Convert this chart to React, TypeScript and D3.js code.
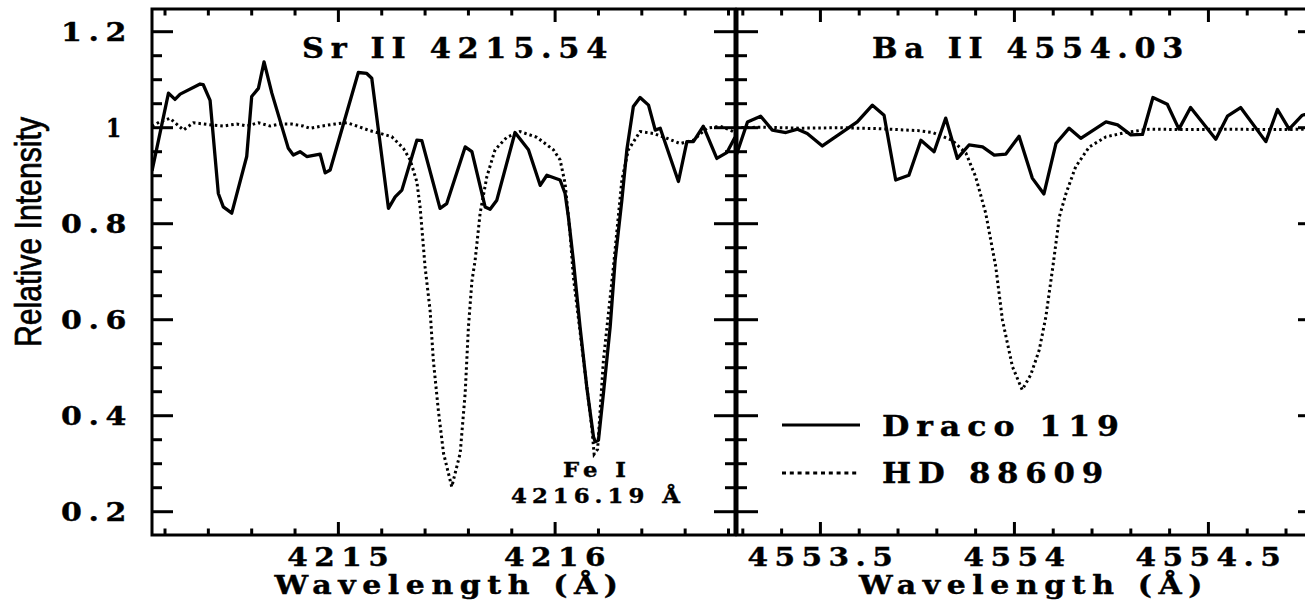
import React from 'react';
import * as d3 from 'd3';

// ---------- Data ----------
// Sr II panel, Draco 119 (solid)
const srDracoWave = [4214.14, 4214.216, 4214.246, 4214.27, 4214.362, 4214.376, 4214.408, 4214.446, 4214.469, 4214.508, 4214.577, 4214.6, 4214.631, 4214.657, 4214.693, 4214.769, 4214.792, 4214.823, 4214.854, 4214.916, 4214.939, 4214.962, 4215.092, 4215.131, 4215.154, 4215.231, 4215.262, 4215.293, 4215.362, 4215.385, 4215.469, 4215.5, 4215.585, 4215.616, 4215.677, 4215.7, 4215.731, 4215.815, 4215.877, 4215.931, 4215.962, 4216.023, 4216.046, 4216.061, 4216.084, 4216.115, 4216.146, 4216.177, 4216.185, 4216.2, 4216.223, 4216.254, 4216.277, 4216.308, 4216.331, 4216.361, 4216.392, 4216.431, 4216.462, 4216.485, 4216.569, 4216.608, 4216.638, 4216.684, 4216.746, 4216.792, 4216.83];
const srDracoFlux = [0.91, 1.072, 1.059, 1.07, 1.091, 1.09, 1.057, 0.863, 0.835, 0.822, 0.94, 1.065, 1.082, 1.137, 1.072, 0.957, 0.943, 0.95, 0.94, 0.945, 0.906, 0.912, 1.115, 1.113, 1.103, 0.832, 0.856, 0.87, 0.974, 0.973, 0.832, 0.842, 0.96, 0.95, 0.835, 0.83, 0.849, 0.99, 0.954, 0.88, 0.901, 0.891, 0.863, 0.815, 0.724, 0.585, 0.46, 0.356, 0.346, 0.349, 0.447, 0.585, 0.724, 0.849, 0.954, 1.044, 1.063, 1.047, 0.995, 0.999, 0.888, 0.971, 0.971, 1.003, 0.936, 0.948, 0.98];

// Sr II panel, HD 88609 (dotted)
const srHdWave = [4214.14, 4214.177, 4214.223, 4214.285, 4214.331, 4214.416, 4214.469, 4214.531, 4214.577, 4214.631, 4214.685, 4214.731, 4214.785, 4214.838, 4214.869, 4214.923, 4214.985, 4215.039, 4215.085, 4215.146, 4215.192, 4215.246, 4215.3, 4215.331, 4215.362, 4215.377, 4215.4, 4215.423, 4215.438, 4215.461, 4215.485, 4215.523, 4215.562, 4215.585, 4215.6, 4215.616, 4215.631, 4215.654, 4215.685, 4215.723, 4215.777, 4215.838, 4215.916, 4215.992, 4216.023, 4216.046, 4216.069, 4216.084, 4216.131, 4216.169, 4216.18, 4216.196, 4216.223, 4216.269, 4216.308, 4216.338, 4216.392, 4216.454, 4216.515, 4216.577, 4216.638, 4216.7, 4216.762, 4216.808, 4216.83];
const srHdFlux = [1.003, 1.0125, 1.0196, 0.9952, 1.0104, 1.0056, 1.0035, 1.0077, 1.0035, 1.0104, 1.0035, 1.0077, 1.0077, 1.0035, 0.9987, 1.0035, 1.0077, 1.0104, 1.0035, 0.9938, 0.9883, 0.9813, 0.957, 0.933, 0.8875, 0.835, 0.71, 0.62, 0.516, 0.412, 0.322, 0.252, 0.322, 0.447, 0.585, 0.68, 0.724, 0.822, 0.898, 0.954, 0.98, 0.992, 0.98, 0.954, 0.933, 0.884, 0.78, 0.69, 0.516, 0.377, 0.32, 0.33, 0.516, 0.71, 0.891, 0.954, 0.992, 0.988, 0.978, 0.967, 0.974, 0.999, 1.003, 0.995, 0.99];

// Ba II panel, Draco 119 (solid)
const baDracoWave = [4553.282, 4553.312, 4553.346, 4553.376, 4553.411, 4553.441, 4553.466, 4553.505, 4553.595, 4553.634, 4553.664, 4553.694, 4553.728, 4553.759, 4553.793, 4553.823, 4553.853, 4553.883, 4553.918, 4553.948, 4553.978, 4554.012, 4554.046, 4554.076, 4554.107, 4554.141, 4554.171, 4554.236, 4554.266, 4554.3, 4554.33, 4554.357, 4554.394, 4554.424, 4554.454, 4554.519, 4554.549, 4554.583, 4554.648, 4554.678, 4554.708, 4554.742, 4554.785];
const baDracoFlux = [0.94, 1.012, 1.024, 0.995, 0.99, 0.997, 0.988, 0.962, 1.012, 1.047, 1.026, 0.891, 0.901, 0.974, 0.95, 1.02, 0.936, 0.964, 0.96, 0.943, 0.945, 0.982, 0.895, 0.862, 0.967, 0.999, 0.978, 1.012, 1.006, 0.985, 0.986, 1.063, 1.049, 0.997, 1.042, 0.976, 1.024, 1.042, 0.971, 1.038, 0.997, 1.026, 1.035];

// Ba II panel, HD 88609 (dotted)
const baHdWave = [4553.282, 4553.35, 4553.45, 4553.55, 4553.65, 4553.75, 4553.789, 4553.839, 4553.875, 4553.9, 4553.926, 4553.952, 4553.969, 4553.995, 4554.02, 4554.042, 4554.064, 4554.081, 4554.099, 4554.116, 4554.133, 4554.158, 4554.193, 4554.236, 4554.287, 4554.347, 4554.45, 4554.55, 4554.65, 4554.785];
const baHdFlux = [1.0, 1.001, 0.999, 1.0, 0.998, 0.994, 0.99, 0.974, 0.947, 0.898, 0.822, 0.71, 0.6, 0.502, 0.454, 0.485, 0.537, 0.606, 0.71, 0.815, 0.863, 0.919, 0.96, 0.981, 0.99, 0.997, 0.996, 0.997, 0.996, 0.997];

// Ticks and labels
const yMajorTicks = [0.2, 0.4, 0.6, 0.8, 1.0, 1.2];
const yTickLabels = ['0.2', '0.4', '0.6', '0.8', '1', '1.2'];
const srMajorTicks = [4215, 4216];
const srTickLabels = ['4215', '4216'];
const baMajorTicks = [4553.5, 4554, 4554.5];
const baTickLabels = ['4553.5', '4554', '4554.5'];

const srTitle = 'Sr II 4215.54';
const baTitle = 'Ba II 4554.03';
const seriesNames = ['Draco 119', 'HD 88609'];

// ---------- Layout ----------
const W = 1305;
const H = 602;
const TOP = 9;
const BOTTOM = 535;
const SERIF = "'DejaVu Serif', 'Liberation Serif', serif";

const y = d3.scaleLinear().domain([0.1515, 1.2473]).range([BOTTOM, TOP]);
const xSr = d3.scaleLinear().domain([4214.14, 4216.83]).range([152, 735]);
const xBa = d3.scaleLinear().domain([4553.285, 4554.785]).range([737, 1319]);

const yMinor = d3.range(0.2, 1.2001, 0.05).map(v => +v.toFixed(2));
const srMinor = d3.range(4214.2, 4216.81, 0.2).map(v => +v.toFixed(1));
const baMinor = d3.range(4553.3, 4554.71, 0.1).map(v => +v.toFixed(1));

function zip(a: number[], b: number[]): [number, number][] {
  return a.map((v, i) => [v, b[i]] as [number, number]);
}

function T({ x, y, len, size = 25, anchor = 'start', children }: any) {
  return (
    <text x={x} y={y} textAnchor={anchor} fontFamily={SERIF} fontWeight="bold" fontSize={size}
      letterSpacing="0.22em" textLength={len} lengthAdjust="spacingAndGlyphs"
      stroke="#000" strokeWidth={0.4}>{children}</text>
  );
}

function Panel({ x, id, majors, minors, labels, solid, dotted, title, titleX, titleLen }: any) {
  const [x0, x1] = x.range();
  const line = d3.line<[number, number]>().x(d => x(d[0])).y(d => y(d[1]));
  const isMajorY = (v: number) => yMajorTicks.some(m => Math.abs(m - v) < 1e-6);
  const isMajorX = (v: number) => majors.some((m: number) => Math.abs(m - v) < 1e-6);
  return (
    <g>
      <defs>
        <clipPath id={id}>
          <rect x={x0} y={TOP} width={x1 - x0} height={BOTTOM - TOP} />
        </clipPath>
      </defs>
      <g clipPath={`url(#${id})`}>
        <path d={line(dotted) || ''} fill="none" stroke="#000" strokeWidth={3} strokeDasharray="2.5,3" />
        <path d={line(solid) || ''} fill="none" stroke="#000" strokeWidth={3.3} strokeLinejoin="round" />
      </g>
      {/* x ticks */}
      {minors.map((v: number) => {
        const L = isMajorX(v) ? 13 : 6.5;
        const px = x(v);
        return (
          <g key={'x' + v}>
            <line x1={px} x2={px} y1={BOTTOM} y2={BOTTOM - L} stroke="#000" strokeWidth={3} />
            <line x1={px} x2={px} y1={TOP} y2={TOP + L} stroke="#000" strokeWidth={3} />
          </g>
        );
      })}
      {majors.filter((m: number) => !minors.some((v: number) => Math.abs(v - m) < 1e-6)).map((v: number) => (
        <g key={'xm' + v}>
          <line x1={x(v)} x2={x(v)} y1={BOTTOM} y2={BOTTOM - 13} stroke="#000" strokeWidth={3} />
          <line x1={x(v)} x2={x(v)} y1={TOP} y2={TOP + 13} stroke="#000" strokeWidth={3} />
        </g>
      ))}
      {/* y ticks */}
      {yMinor.map(v => {
        const L = isMajorY(v) ? 21 : 10;
        const py = y(v);
        return (
          <g key={'y' + v}>
            <line x1={x0} x2={x0 + L} y1={py} y2={py} stroke="#000" strokeWidth={3} />
            <line x1={x1} x2={x1 - L} y1={py} y2={py} stroke="#000" strokeWidth={3} />
          </g>
        );
      })}
      <rect x={x0} y={TOP} width={x1 - x0} height={BOTTOM - TOP} fill="none" stroke="#000" strokeWidth={3} />
      {/* tick labels */}
      {majors.map((v: number, i: number) => (
        <T key={'lab' + v} x={x(v) + 3} y={566} anchor="middle" size={26} len={labels[i].length === 4 ? 108 : 152}>{labels[i]}</T>
      ))}
      <T x={(x0 + x1) / 2 + 6} y={594} anchor="middle" size={26} len={350}>Wavelength (Å)</T>
      <T x={titleX} y={58} size={28} len={titleLen}>{title}</T>
    </g>
  );
}

export default function App() {
  const lineLegend = d3.line<[number, number]>().x(d => d[0]).y(d => d[1]);
  return (
    <svg width={W} height={H} viewBox={`0 0 ${W} ${H}`} style={{ position: 'absolute', left: 0, top: 0, background: '#fff' }}>
      <rect x={0} y={0} width={W} height={H} fill="#fff" />
      <Panel x={xSr} id="clipSr" majors={srMajorTicks} minors={srMinor} labels={srTickLabels}
        solid={zip(srDracoWave, srDracoFlux)} dotted={zip(srHdWave, srHdFlux)}
        title={srTitle} titleX={302} titleLen={312} />
      <Panel x={xBa} id="clipBa" majors={baMajorTicks} minors={baMinor} labels={baTickLabels}
        solid={zip(baDracoWave, baDracoFlux)} dotted={zip(baHdWave, baHdFlux)}
        title={baTitle} titleX={872} titleLen={318} />
      {/* y tick labels */}
      {yMajorTicks.map((v, i) => (
        <T key={'yl' + v} x={yTickLabels[i].length > 1 ? 133 : 126} y={y(v) + 9} anchor="end" size={26}
          len={yTickLabels[i].length > 1 ? 72 : 20}>{yTickLabels[i]}</T>
      ))}
      <text transform="translate(41,232) rotate(-90)" textAnchor="middle" fontFamily="'Liberation Sans', Arial, sans-serif"
        fontSize={36} textLength={230} lengthAdjust="spacingAndGlyphs" stroke="#000" strokeWidth={0.7}>Relative Intensity</text>
      {/* Fe I annotation */}
      <T x={597} y={477} anchor="middle" size={21} len={68}>Fe I</T>
      <T x={598} y={503} anchor="middle" size={21} len={174}>4216.19 Å</T>
      {/* legend */}
      <path d={lineLegend([[782, 425], [860, 425]]) || ''} stroke="#000" strokeWidth={3} fill="none" />
      <path d={lineLegend([[782, 473], [860, 473]]) || ''} stroke="#000" strokeWidth={3} fill="none" strokeDasharray="4,3.8" />
      <T x={882} y={436} size={28} len={244}>{seriesNames[0]}</T>
      <T x={882} y={483} size={28} len={228}>{seriesNames[1]}</T>
    </svg>
  );
}
